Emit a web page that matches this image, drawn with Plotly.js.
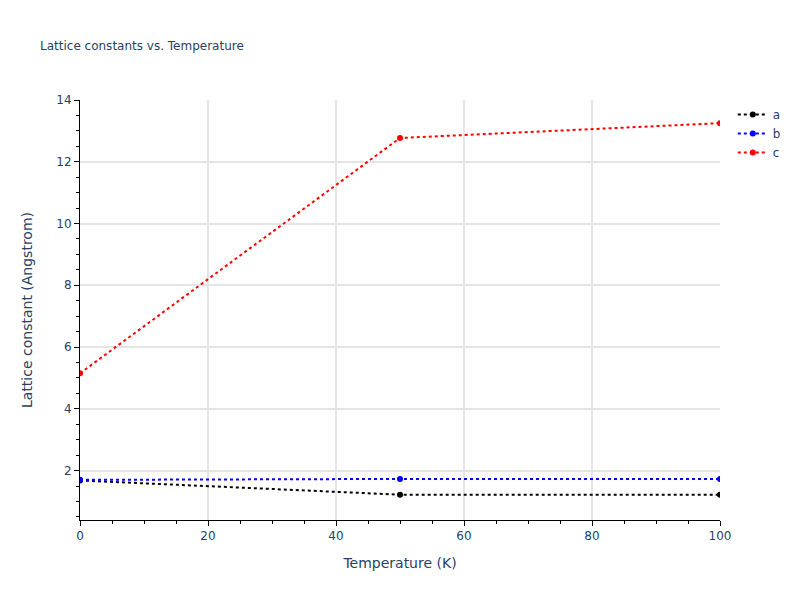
<!DOCTYPE html>
<html>
<head>
<meta charset="utf-8">
<script src="https://cdn.plot.ly/plotly-3.0.1.min.js"></script>
<style>html,body{margin:0;padding:0;}#chart{width:800px;height:600px;}</style>
</head>
<body>
<div id="chart"></div>
<script>
const temperatures = [0, 50, 100];
const latticeA = [1.68, 1.22, 1.22];
const latticeB = [1.70, 1.73, 1.73];
const latticeC = [5.15, 12.77, 13.25];
const seriesNames = ['a', 'b', 'c'];
const seriesColors = ['black', 'blue', 'red'];

const series = [latticeA, latticeB, latticeC];
const traces = series.map((ys, i) => ({
  x: temperatures,
  y: ys,
  name: seriesNames[i],
  mode: 'lines+markers',
  line: {color: seriesColors[i], dash: 'dot', width: 2},
  marker: {color: seriesColors[i], size: 6}
}));

const layout = {
  width: 800, height: 600,
  paper_bgcolor: 'white', plot_bgcolor: 'white',
  margin: {t: 100, b: 80, l: 80, r: 80},
  title: {text: 'Lattice constants vs. Temperature', font: {size: 12, color: '#2a3f5f'}, x: 0.05, xanchor: 'left', y: 0.93},
  xaxis: {
    title: {text: 'Temperature (K)', font: {size: 14}, standoff: 15},
    range: [0, 100],
    showline: true, linecolor: 'black', linewidth: 1,
    ticks: 'outside', tickcolor: 'black',
    gridcolor: '#e5e5e5', gridwidth: 2, zeroline: false,
    minor: {ticks: 'outside', dtick: 5, tickcolor: 'black', showgrid: false}
  },
  yaxis: {
    title: {text: 'Lattice constant (Angstrom)', font: {size: 14}, standoff: 20},
    range: [0.4, 14],
    showline: true, linecolor: 'black', linewidth: 1,
    ticks: 'outside', tickcolor: 'black',
    gridcolor: '#e5e5e5', gridwidth: 2, zeroline: false,
    minor: {ticks: 'outside', dtick: 0.5, tickcolor: 'black', showgrid: false}
  },
  font: {family: '"DejaVu Sans", verdana, arial, sans-serif', color: '#2a3f5f', size: 12},
  legend: {x: 1.02, y: 1, xanchor: 'left', yanchor: 'top'}
};

Plotly.newPlot('chart', traces, layout, {displayModeBar: false});
</script>
</body>
</html>
